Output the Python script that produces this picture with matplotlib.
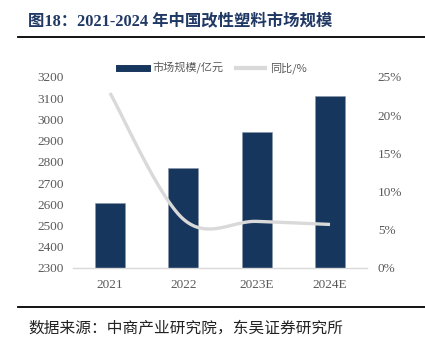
import numpy as np
import matplotlib.pyplot as plt
from matplotlib.lines import Line2D
from matplotlib.ticker import FuncFormatter

years = ['2021', '2022', '2023E', '2024E']
market_size = [2605, 2773, 2942, 3110]   # 亿元
yoy = [22.9, 6.4, 6.1, 5.7]              # %

bar_color = '#17365d'
line_color = '#d9d9d9'
tick_color = '#595959'
serif = ['Liberation Serif', 'Noto Sans CJK SC']
cjk = ['Noto Sans CJK SC', 'DejaVu Sans']


def smooth(xs, ys, n=40):
    # excel-like smoothed line: catmull-rom turned into bezier segments
    px = np.array(xs, float)
    py = np.array(ys, float)
    ex = np.concatenate([[px[0]], px, [px[-1]]])
    ey = np.concatenate([[py[0]], py, [py[-1]]])
    outx, outy = [], []
    t = np.linspace(0, 1, n)
    for i in range(len(px) - 1):
        p0 = np.array([ex[i + 1], ey[i + 1]])
        p3 = np.array([ex[i + 2], ey[i + 2]])
        c1 = p0 + (p3 - np.array([ex[i], ey[i]])) / 6
        c2 = p3 - (np.array([ex[i + 3], ey[i + 3]]) - p0) / 6
        pts = ((1 - t) ** 3)[:, None] * p0 + (3 * (1 - t) ** 2 * t)[:, None] * c1 \
            + (3 * (1 - t) * t ** 2)[:, None] * c2 + (t ** 3)[:, None] * p3
        outx.extend(pts[:, 0])
        outy.extend(pts[:, 1])
    return outx, outy


fig = plt.figure(figsize=(4.25, 3.47), dpi=100)
ax = fig.add_axes([0.1725, 0.2277, 0.6903, 0.5504])
x = np.arange(len(years))

ax.bar(x, market_size, 0.41, color=bar_color, edgecolor='#8896a8', linewidth=0.4, zorder=2)
ax.set_ylim(2300, 3200)
ax.set_yticks(range(2300, 3201, 100))
ax.set_xlim(-0.5, len(years) - 0.5)
ax.set_xticks(x)
ax.set_xticklabels(years)

ax2 = ax.twinx()
sx, sy = smooth(x, yoy)
ax2.plot(sx, sy, color=line_color, linewidth=2.4, solid_capstyle='butt', zorder=3)
ax2.set_ylim(0, 25)
ax2.set_yticks(range(0, 26, 5))
ax2.yaxis.set_major_formatter(FuncFormatter(lambda v, p: f'{v:.0f}%'))

for a in (ax, ax2):
    for s in a.spines.values():
        s.set_visible(False)
    a.tick_params(length=0, colors=tick_color, labelsize=9.5)
    for lab in a.get_xticklabels() + a.get_yticklabels():
        lab.set_fontfamily(serif)
ax.spines['bottom'].set_visible(True)
ax.spines['bottom'].set_color('#d9d9d9')
ax.spines['bottom'].set_linewidth(1)
ax.tick_params(axis='y', pad=7)
ax.tick_params(axis='x', pad=8)
ax2.tick_params(axis='y', pad=8)

handles = [Line2D([0], [0], color=bar_color, linewidth=5),
           Line2D([0], [0], color=line_color, linewidth=3)]
fig.legend(handles, ['市场规模/亿元', '同比/%'], loc='center', bbox_to_anchor=(0.5, 0.804),
           ncol=2, frameon=False, handlelength=2.6, columnspacing=1.2, handletextpad=0.4,
           prop={'family': cjk, 'size': 8}, labelcolor=tick_color)

fig.text(0.066, 0.936, '图18：2021-2024 年中国改性塑料市场规模', fontsize=11.8, fontweight='bold',
         color='#1f3864', family=serif, va='center', ha='left')
fig.add_artist(Line2D([0.042, 1.0], [0.893, 0.893], color='black', linewidth=1.3))
fig.add_artist(Line2D([0.042, 1.0], [0.116, 0.116], color='black', linewidth=1.3))
fig.text(0.066, 0.055, '数据来源：中商产业研究院，东吴证券研究所', fontsize=11.3,
         color='#222222', family=cjk, va='center', ha='left')

fig.savefig('out.png', dpi=100)
